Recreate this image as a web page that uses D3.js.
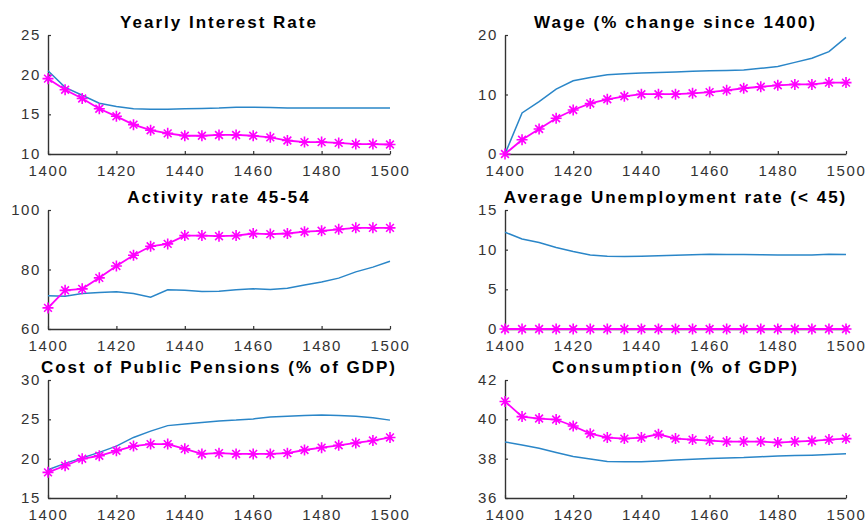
<!DOCTYPE html>
<html>
<head>
<meta charset="utf-8">
<script src="https://cdn.jsdelivr.net/npm/d3@7"></script>
<style>
  body { margin: 0; background: #fff; }
  text { font-family: "Liberation Sans", Arial, sans-serif; }
</style>
</head>
<body>
<svg id="chart" width="868" height="523"></svg>
<script>
// years sampled every 5
const years = [1400, 1405, 1410, 1415, 1420, 1425, 1430, 1435, 1440, 1445, 1450,
  1455, 1460, 1465, 1470, 1475, 1480, 1485, 1490, 1495, 1500];
const xTicks = [1400, 1420, 1440, 1460, 1480, 1500];

const titles = [
  "Yearly Interest Rate",
  "Wage (% change since 1400)",
  "Activity rate 45-54",
  "Average Unemployment rate (< 45)",
  "Cost of Public Pensions (% of GDP)",
  "Consumption (% of GDP)"
];
const yDomains = [[10, 25], [0, 20], [60, 100], [0, 15], [15, 30], [36, 42]];
const yTicks = [[10, 15, 20, 25], [0, 10, 20], [60, 80, 100], [0, 5, 10, 15], [15, 20, 25, 30], [36, 38, 40, 42]];

// blue line (baseline)
const interestBase = [20.5, 18.4, 17.4, 16.4, 16.0, 15.7, 15.65, 15.65, 15.7, 15.75, 15.8,
  15.9, 15.9, 15.85, 15.8, 15.8, 15.8, 15.8, 15.8, 15.8, 15.8];
const wageBase = [0, 6.9, 8.8, 10.9, 12.3, 12.85, 13.3, 13.5, 13.6, 13.7, 13.8,
  13.9, 14.0, 14.05, 14.1, 14.4, 14.7, 15.4, 16.1, 17.2, 19.6];
const activityBase = [71.2, 71.0, 71.9, 72.3, 72.5, 71.9, 70.7, 73.2, 73.0, 72.6, 72.7,
  73.2, 73.5, 73.3, 73.7, 74.8, 75.8, 77.1, 79.2, 80.8, 82.8];
const unempBase = [12.2, 11.35, 10.9, 10.27, 9.76, 9.34, 9.17, 9.13, 9.17, 9.24, 9.3,
  9.36, 9.42, 9.4, 9.38, 9.36, 9.34, 9.34, 9.34, 9.42, 9.38];
const pensionBase = [18.6, 19.4, 20.1, 20.8, 21.6, 22.7, 23.5, 24.2, 24.4, 24.6, 24.8,
  24.9, 25.05, 25.3, 25.4, 25.5, 25.55, 25.5, 25.4, 25.2, 24.9];
const consBase = [38.85, 38.7, 38.53, 38.31, 38.11, 37.98, 37.86, 37.84, 37.84, 37.88, 37.93,
  37.97, 38.01, 38.04, 38.06, 38.1, 38.13, 38.16, 38.18, 38.21, 38.25];

// magenta line with stars (reform)
const interestReform = [19.5, 18.1, 17.0, 15.7, 14.75, 13.7, 13.0, 12.6, 12.3, 12.3, 12.4,
  12.4, 12.3, 12.1, 11.7, 11.5, 11.5, 11.4, 11.25, 11.25, 11.2];
const wageReform = [0, 2.4, 4.2, 6.0, 7.4, 8.5, 9.2, 9.7, 10.05, 10.05, 10.05,
  10.2, 10.4, 10.7, 11.05, 11.3, 11.55, 11.7, 11.7, 12.0, 12.0];
const activityReform = [67.1, 73.0, 73.5, 77.2, 81.2, 84.8, 87.8, 88.6, 91.4, 91.4, 91.2,
  91.4, 92.1, 91.9, 92.1, 92.7, 93.0, 93.5, 94.0, 94.0, 94.0];
const unempReform = [0, 0, 0, 0, 0, 0, 0, 0, 0, 0, 0,
  0, 0, 0, 0, 0, 0, 0, 0, 0, 0];
const pensionReform = [18.26, 19.1, 19.99, 20.37, 21.0, 21.6, 21.85, 21.85, 21.25, 20.6, 20.7,
  20.6, 20.6, 20.6, 20.7, 21.1, 21.4, 21.7, 22.0, 22.3, 22.7];
const consReform = [40.91, 40.14, 40.04, 39.99, 39.66, 39.27, 39.07, 39.02, 39.07, 39.24, 39.02,
  38.97, 38.92, 38.87, 38.87, 38.87, 38.82, 38.87, 38.9, 38.97, 39.02];

const baseSeries = [interestBase, wageBase, activityBase, unempBase, pensionBase, consBase];
const reformSeries = [interestReform, wageReform, activityReform, unempReform, pensionReform, consReform];

const svg = d3.select("#chart");
const colLeft = [48, 505];
const colRight = [390, 846];
const rowTop = [35, 210, 380];
const rowBottom = [154, 329, 498];

const blue = "#2a86c8";
const magenta = "#ff00ff";
const axisColor = "#333";

function starPath(r) {
  const d = r * 0.707;
  return `M${-r},0L${r},0M0,${-r}L0,${r}M${-d},${-d}L${d},${d}M${-d},${d}L${d},${-d}`;
}

titles.forEach((title, i) => {
  const col = i % 2, row = Math.floor(i / 2);
  const x = d3.scaleLinear().domain([1400, 1500]).range([colLeft[col], colRight[col]]);
  const y = d3.scaleLinear().domain(yDomains[i]).range([rowBottom[row], rowTop[row]]);
  const g = svg.append("g").attr("class", "panel");

  // axes, MATLAB style: ticks inside, no box
  const xAxis = g.append("g")
    .attr("transform", `translate(0,${rowBottom[row]})`)
    .call(d3.axisBottom(x).tickValues(xTicks).tickFormat(d3.format("d"))
      .tickSizeInner(-3).tickSizeOuter(0).tickPadding(11));
  const yAxis = g.append("g")
    .attr("transform", `translate(${colLeft[col]},0)`)
    .call(d3.axisLeft(y).tickValues(yTicks[i]).tickFormat(d3.format("d"))
      .tickSizeInner(-3).tickSizeOuter(0).tickPadding(7));
  [xAxis, yAxis].forEach((a) => {
    a.select(".domain").attr("stroke", axisColor).attr("stroke-width", 1.4);
    a.selectAll(".tick line").attr("stroke", axisColor).attr("stroke-width", 1.2);
    a.selectAll(".tick text")
      .attr("fill", axisColor)
      .style("font-size", "15px")
      .style("letter-spacing", "1.6px");
  });
  yAxis.selectAll(".tick text").attr("dy", "0.3em");

  const line = d3.line().x((d, j) => x(years[j])).y((d) => y(d));

  g.append("path")
    .datum(baseSeries[i])
    .attr("fill", "none")
    .attr("stroke", blue)
    .attr("stroke-width", 1.5)
    .attr("d", line);

  g.append("path")
    .datum(reformSeries[i])
    .attr("fill", "none")
    .attr("stroke", magenta)
    .attr("stroke-width", 1.8)
    .attr("d", line);

  g.selectAll(".star")
    .data(reformSeries[i])
    .join("path")
    .attr("class", "star")
    .attr("transform", (d, j) => `translate(${x(years[j])},${y(d)})`)
    .attr("d", starPath(5.5))
    .attr("stroke", magenta)
    .attr("stroke-width", 1.6)
    .attr("fill", "none");

  g.append("text")
    .attr("x", (colLeft[col] + colRight[col]) / 2)
    .attr("y", rowTop[row] - 7)
    .attr("text-anchor", "middle")
    .style("font-size", "17px")
    .style("font-weight", "bold")
    .style("letter-spacing", "2px")
    .attr("fill", "#000")
    .text(title);
});
</script>
</body>
</html>
